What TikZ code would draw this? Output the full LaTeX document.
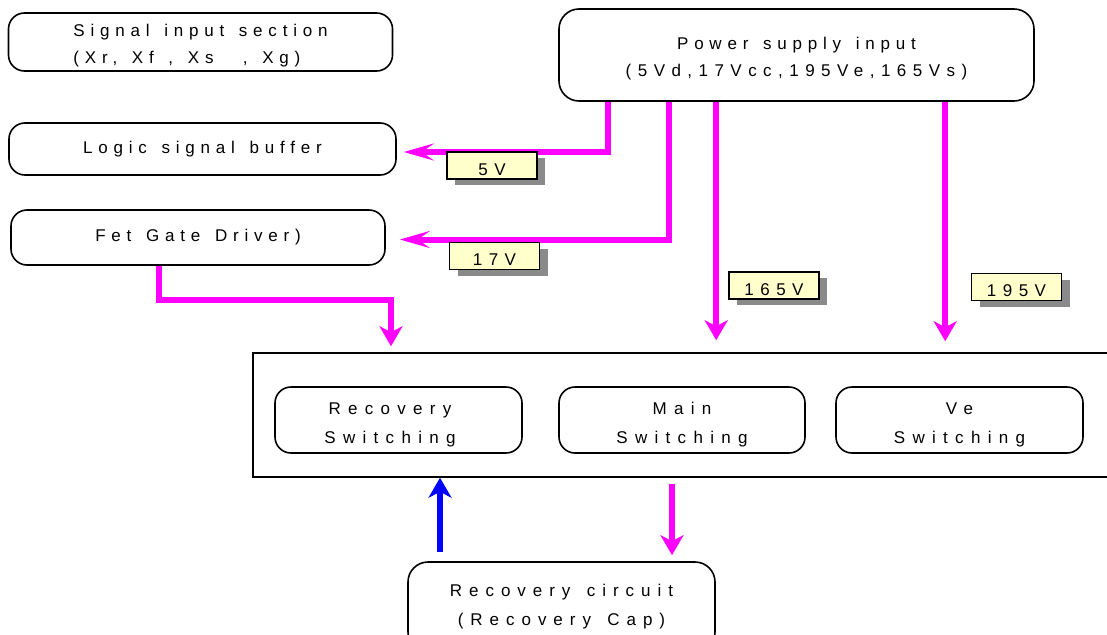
\documentclass[tikz,border=0pt]{standalone}
\usepackage{fontspec}
\setmainfont{Liberation Sans}
\newfontfamily\spacedA[LetterSpace=34, WordSpace=1.4]{Liberation Sans}
\newfontfamily\spacedB[LetterSpace=43]{Liberation Sans}
\newfontfamily\spacedC[LetterSpace=41, WordSpace=1.4]{Liberation Sans}
\newfontfamily\spacedD[LetterSpace=38]{Liberation Sans}
\usetikzlibrary{arrows.meta,shadows}
\definecolor{pwr}{HTML}{FF00FF}
\definecolor{ret}{HTML}{0000FF}
\definecolor{tagfill}{HTML}{FFFFCC}
\definecolor{tagshadow}{HTML}{8A8A8A}
\newcommand{\txtA}{\spacedA\fontsize{17pt}{27pt}\selectfont}
\newcommand{\txtB}{\spacedB\fontsize{17pt}{29pt}\selectfont}
\newcommand{\txtC}{\spacedC\fontsize{17pt}{29pt}\selectfont}
\newcommand{\lift}[1]{\rule{0pt}{#1}}
\begin{document}
\begin{tikzpicture}[x=1pt,y=-1pt,
  box/.style={draw, line width=1.6pt, rounded corners=16pt, align=center,
              inner sep=0pt, font=\txtA},
  swbox/.style={box, font=\txtB, minimum width=247pt, minimum height=66pt},
  tag/.style={draw, fill=tagfill, line width=1.4pt, minimum width=90pt,
              minimum height=27pt, inner sep=0pt, text height=19pt, text depth=0pt,
              font=\spacedD\fontsize{17pt}{18pt}\selectfont,
              drop shadow={shadow xshift=8pt, shadow yshift=-6pt, fill=tagshadow, opacity=1}},
  feed/.style={draw=pwr, line width=6pt},
  back/.style={draw=ret, line width=6pt},
  hhead/.style={-{Stealth[length=30pt, width=17pt, inset=12pt]}},
  vhead/.style={-{Stealth[length=20pt, width=23pt, inset=6pt]}}]
\clip (0,0) rectangle (1107,634);

% blocks
\node[box, align=left, minimum width=384pt, minimum height=58pt] (sig) at (200.5,42)
  {\lift{20pt}Signal input section\\(Xr, Xf , Xs \ , Xg)};
\node[box, minimum width=475pt, minimum height=92pt, rounded corners=20pt] (power) at (796.5,55)
  {\lift{20pt}Power supply input\\{\spacedD(5Vd,17Vcc,195Ve,165Vs)}};
\node[box, minimum width=387pt, minimum height=52pt] (logic) at (202.5,149) {Logic signal buffer};
\node[box, minimum width=374pt, minimum height=55pt] (fet) at (198,237.5) {Fet Gate Driver)};

\node[draw, line width=1.5pt, minimum width=870pt, minimum height=124pt, inner sep=0pt] (main) at (688,415) {};
\node[swbox] (recsw) at (398.5,420) {\lift{21pt}Recovery\hspace*{17pt}\\Switching\hspace*{17pt}};
\node[swbox, minimum width=246pt] (mainsw) at (682,420) {\lift{21pt}Main\\Switching};
\node[swbox] (vesw) at (959.5,420) {\lift{21pt}Ve\\Switching};

\node[box, font=\txtC, minimum width=307pt, minimum height=90pt, rounded corners=20pt] (rc) at (561.5,607)
  {Recovery circuit\\(Recovery Cap)};

% supply taps
\coordinate (p5) at ([xshift=50pt]power.south west);
\coordinate (p17) at ([xshift=111pt]power.south west);
\coordinate (p165) at ([xshift=158pt]power.south west);
\coordinate (p195) at ([xshift=387pt]power.south west);
\coordinate (fout) at ([xshift=149pt]fet.south west);
\coordinate (fbend) at (391,300);
\coordinate (xout) at (672,0);
\coordinate (xin) at (440,0);

% connectors
\draw[feed, hhead, shorten >=7pt] (p5) |- ([yshift=-3pt]logic.east);
\draw[feed, hhead, shorten >=14pt] (p17) |- ([yshift=-2pt]fet.east);
\draw[feed, vhead, shorten >=12pt] (p165) -- (p165 |- main.north);
\draw[feed, vhead, shorten >=11pt] (p195) -- (p195 |- main.north);
\draw[feed, vhead, shorten >=6pt] (fout) |- (fbend) -- (fbend |- main.north);
\draw[feed, vhead, shorten <=6pt, shorten >=6pt] (main.south -| xout) -- (rc.north -| xout);
\draw[back, vhead, shorten <=9pt] (rc.north -| xin) -- (main.south -| xin);

% voltage tags
\node[tag] (t5) at (492,165.5) {5V};
\node[tag] (t17) at (494.5,256) {17V};
\node[tag] (t165) at (774,285.5) {165V};
\node[tag] (t195) at (1016.5,287) {195V};
\end{tikzpicture}
\end{document}
